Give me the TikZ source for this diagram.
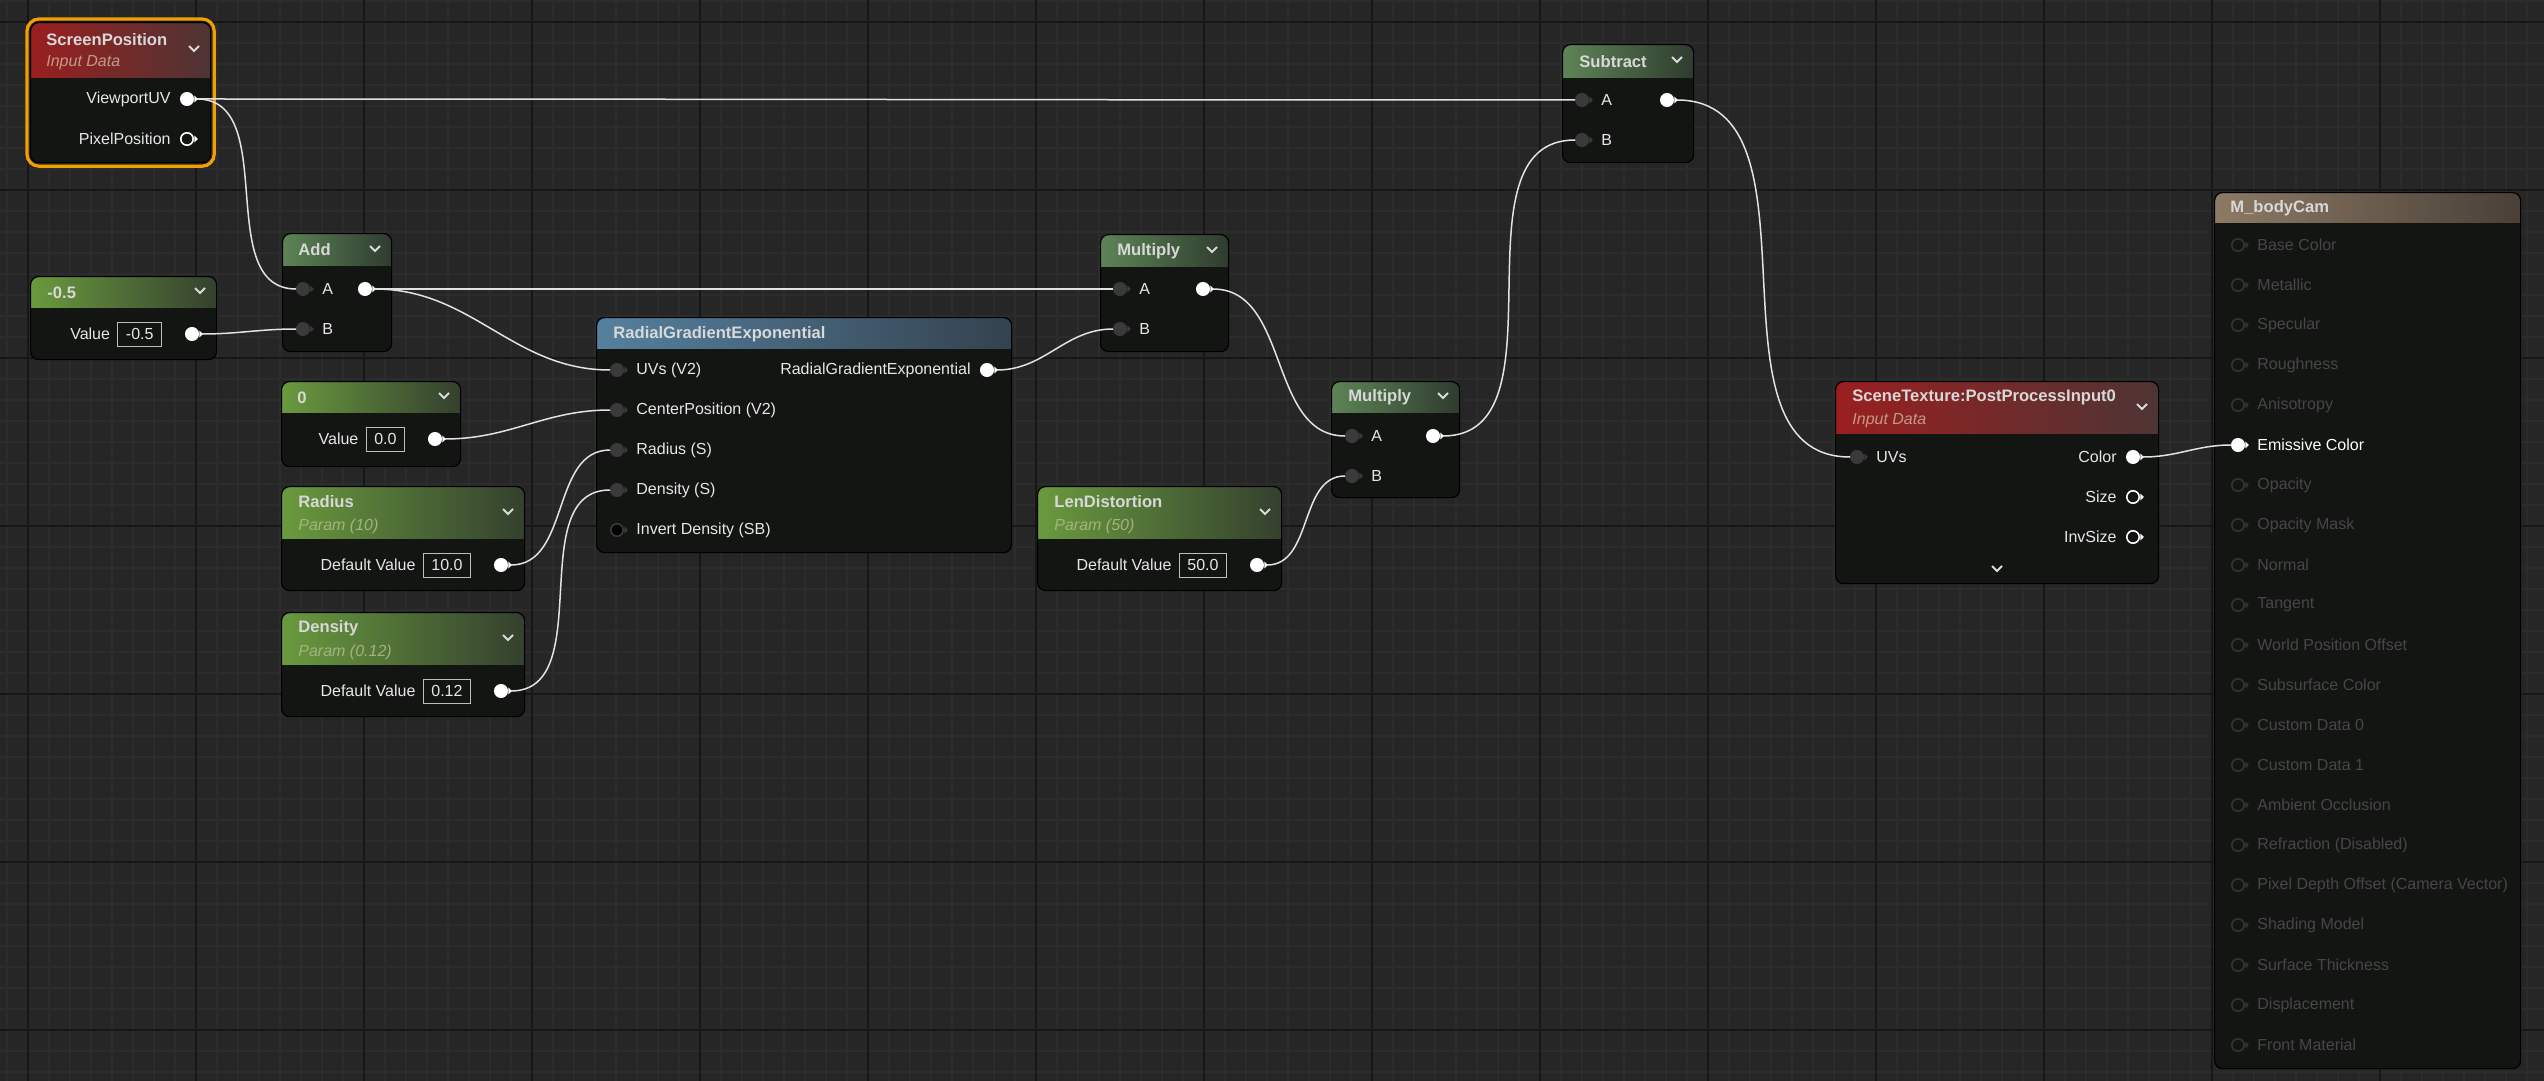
\documentclass[tikz,border=0pt]{standalone}
\usepackage{fontspec}
\setmainfont{Liberation Sans}
\usepackage{xcolor}
\usetikzlibrary{positioning,shapes.geometric}
\definecolor{canvas}{HTML}{262626}
\definecolor{gridmin}{HTML}{2C2C2C}
\definecolor{gridmaj}{HTML}{171717}
\definecolor{nodebody}{HTML}{131513}
\definecolor{pindark}{HTML}{3A3A3A}
\definecolor{pinoff}{HTML}{333333}
\definecolor{lbltext}{HTML}{E6E6E6}
\definecolor{lbldim}{HTML}{464646}
\definecolor{ttltext}{HTML}{D8D8D8}
\definecolor{valedge}{HTML}{BDBDBD}
\definecolor{wirecol}{HTML}{E2E2E2}
\definecolor{chevcol}{HTML}{DADADA}
\definecolor{selorange}{HTML}{F2A000}
\definecolor{hdrred}{HTML}{9A1F1F}
\definecolor{hdrredR}{HTML}{4E3434}
\definecolor{subred}{HTML}{C49A86}
\definecolor{hdrgrn}{HTML}{6A9A3E}
\definecolor{hdrgrnR}{HTML}{34402E}
\definecolor{subgrn}{HTML}{A3B47D}
\definecolor{hdrmath}{HTML}{5D8456}
\definecolor{hdrmathR}{HTML}{2F3B2F}
\definecolor{hdrblu}{HTML}{55809F}
\definecolor{hdrbluR}{HTML}{34424E}
\definecolor{hdrtan}{HTML}{8C7A64}
\definecolor{hdrtanR}{HTML}{4A4038}
\newcommand{\chev}[2]{\draw[chev] (#1-5,#2-3) -- (#1,#2+2) -- (#1+5,#2-3);}

\begin{document}
\begin{tikzpicture}[x=0.5pt, y=-0.5pt, font=\fontsize{8}{9.6}\selectfont]
  % one unit is one pixel of the editor screenshot, y runs downwards
  \tikzset{matbox/.style 2 args={draw=black, line width=0.6pt, fill=nodebody,
                                 rounded corners=4pt, anchor=north west,
                                 inner sep=0pt, minimum width=#1, minimum height=#2},
           hdr/.style n args={3}{path picture={\shade[sharp corners, left color=#1, right color=#2]
                 (path picture bounding box.north west) rectangle
                 ([yshift=-#3]path picture bounding box.north east);}},
           ttl/.style={font=\fontsize{8.3}{10}\selectfont\bfseries, text=ttltext,
                       inner sep=0pt, anchor=west},
           subttl/.style={font=\fontsize{8}{9.6}\selectfont\itshape, text=#1,
                          inner sep=0pt, anchor=west},
           lbl/.style={text=lbltext, inner sep=1pt},
           lbloff/.style={text=lbldim, inner sep=1pt},
           valbox/.style={draw=valedge, line width=0.5pt, text=lbltext,
                          inner xsep=4pt, inner ysep=0pt, minimum height=12pt},
           sockarrow/.style={isosceles triangle, isosceles triangle apex angle=90,
                             fill=#1, draw=none, inner sep=0pt, minimum size=1.7pt},
           sock/.style 2 args={circle, inner sep=0pt, minimum size=6.2pt, fill=#1,
                               draw=#2, line width=0.8pt, label distance=-0.5pt,
                               label={[sockarrow=#2]0:}},
           sockon/.style={sock={white}{white}},
           sockring/.style={sock={nodebody}{white}},
           sockin/.style={sock={pindark}{pindark}},
           sockinoff/.style={sock={black}{pindark}},
           sockoff/.style={sock={nodebody}{pinoff}},
           wire/.style={draw=wirecol, line width=0.75pt},
           chev/.style={draw=chevcol, line width=1pt},
           selring/.style={draw=selorange, line width=1.6pt, rounded corners=6pt}}

  % canvas and grid
  \useasboundingbox (0,0) rectangle (2544,1081);
  \fill[canvas] (0,0) rectangle (2544,1081);
  \foreach \x in {7,28,...,2544} \draw[gridmin, line width=1pt] (\x,0) -- (\x,1081);
  \foreach \y in {1,22,...,1081} \draw[gridmin, line width=1pt] (0,\y) -- (2544,\y);
  \foreach \x in {28,196,...,2544} \draw[gridmaj, line width=1.2pt] (\x,0) -- (\x,1081);
  \foreach \y in {22,190,...,1081} \draw[gridmaj, line width=1.2pt] (0,\y) -- (2544,\y);

  % ScreenPosition
  \node[matbox={90pt}{70pt}, hdr={hdrred}{hdrredR}{27.5pt}] (scrpos) at (30,22) {};
  \draw[selring] ([shift={(-3,-3)}]scrpos.north west) rectangle ([shift={(3,3)}]scrpos.south east);
  \node[ttl] (scrpos-t) at ([shift={(16,18)}]scrpos.north west) {ScreenPosition};
  \node[subttl=subred] (scrpos-s) at ([shift={(16,41)}]scrpos.north west) {Input Data};
  \chev{194}{49}
  \node[sockon] (vpuv) at (187,99) {};
  \node[lbl, left=3.5pt of vpuv] (vpuv-l) {ViewportUV};
  \node[sockring] (pixpos) at (187,139) {};
  \node[lbl, left=3.5pt of pixpos] (pixpos-l) {PixelPosition};

  % constant -0.5
  \node[matbox={93pt}{41.5pt}, hdr={hdrgrn}{hdrgrnR}{15.5pt}] (cm05) at (30,276) {};
  \node[ttl] (cm05-t) at ([shift={(17,17)}]cm05.north west) {-0.5};
  \chev{200}{291}
  \node[sockon] (cm05o) at (192,334) {};
  \node[valbox, left=11.5pt of cm05o] (cm05-v) {-0.5};
  \node[lbl, left=2.5pt of cm05-v] (cm05-l) {Value};

  % Add
  \node[matbox={54.5pt}{59pt}, hdr={hdrmath}{hdrmathR}{16pt}] (add) at (282,233) {};
  \node[ttl] (add-t) at ([shift={(16,17)}]add.north west) {Add};
  \chev{375}{249}
  \node[sockin] (addA) at (303,289) {};
  \node[lbl, right=5pt of addA] (addA-l) {A};
  \node[sockin] (addB) at (303,329) {};
  \node[lbl, right=5pt of addB] (addB-l) {B};
  \node[sockon] (addO) at (365,289) {};

  % constant 0
  \node[matbox={89.5pt}{42.5pt}, hdr={hdrgrn}{hdrgrnR}{15.5pt}] (zero) at (281,381) {};
  \node[ttl] (zero-t) at ([shift={(16,17)}]zero.north west) {0};
  \chev{444}{396}
  \node[sockon] (zeroO) at (435,439) {};
  \node[valbox, left=11.5pt of zeroO] (zero-v) {0.0};
  \node[lbl, left=2.5pt of zero-v] (zero-l) {Value};

  % Radius parameter
  \node[matbox={121.5pt}{52pt}, hdr={hdrgrn}{hdrgrnR}{26pt}] (radius) at (281,486) {};
  \node[ttl] (radius-t) at ([shift={(17,16)}]radius.north west) {Radius};
  \node[subttl=subgrn] (radius-s) at ([shift={(17,40)}]radius.north west) {Param (10)};
  \chev{508}{512}
  \node[sockon] (radO) at (501,565) {};
  \node[valbox, left=11.5pt of radO] (radius-v) {10.0};
  \node[lbl, left=2.5pt of radius-v] (radius-l) {Default Value};

  % Density parameter
  \node[matbox={121.5pt}{52pt}, hdr={hdrgrn}{hdrgrnR}{26pt}] (density) at (281,612) {};
  \node[ttl] (density-t) at ([shift={(17,16)}]density.north west) {Density};
  \node[subttl=subgrn] (density-s) at ([shift={(17,40)}]density.north west) {Param (0.12)};
  \chev{508}{638}
  \node[sockon] (denO) at (501,691) {};
  \node[valbox, left=11.5pt of denO] (density-v) {0.12};
  \node[lbl, left=2.5pt of density-v] (density-l) {Default Value};

  % RadialGradientExponential
  \node[matbox={207.5pt}{117.5pt}, hdr={hdrblu}{hdrbluR}{15.5pt}] (rge) at (596,317) {};
  \node[ttl] (rge-t) at ([shift={(17,17)}]rge.north west) {RadialGradientExponential};
  \node[sockin] (rgeUV) at (617,370) {};
  \node[lbl, right=5pt of rgeUV] (rgeUV-l) {UVs (V2)};
  \node[sockin] (rgeCP) at (617,410) {};
  \node[lbl, right=5pt of rgeCP] (rgeCP-l) {CenterPosition (V2)};
  \node[sockin] (rgeR) at (617,450) {};
  \node[lbl, right=5pt of rgeR] (rgeR-l) {Radius (S)};
  \node[sockin] (rgeD) at (617,490) {};
  \node[lbl, right=5pt of rgeD] (rgeD-l) {Density (S)};
  \node[sockinoff] (rgeInv) at (617,530) {};
  \node[lbl, right=5pt of rgeInv] (rgeInv-l) {Invert Density (SB)};
  \node[sockon] (rgeO) at (987,370) {};
  \node[lbl, left=3.5pt of rgeO] (rgeO-l) {RadialGradientExponential};

  % first Multiply
  \node[matbox={64pt}{58.5pt}, hdr={hdrmath}{hdrmathR}{16pt}] (mul1) at (1100,234) {};
  \node[ttl] (mul1-t) at ([shift={(17,17)}]mul1.north west) {Multiply};
  \chev{1212}{250}
  \node[sockin] (mul1A) at (1120,289) {};
  \node[lbl, right=5pt of mul1A] (mul1A-l) {A};
  \node[sockin] (mul1B) at (1120,329) {};
  \node[lbl, right=5pt of mul1B] (mul1B-l) {B};
  \node[sockon] (mul1O) at (1203,289) {};

  % LenDistortion parameter
  \node[matbox={122pt}{52pt}, hdr={hdrgrn}{hdrgrnR}{26pt}] (lendist) at (1037,486) {};
  \node[ttl] (lendist-t) at ([shift={(17,16)}]lendist.north west) {LenDistortion};
  \node[subttl=subgrn] (lendist-s) at ([shift={(17,40)}]lendist.north west) {Param (50)};
  \chev{1265}{512}
  \node[sockon] (lenO) at (1257,565) {};
  \node[valbox, left=11.5pt of lenO] (lendist-v) {50.0};
  \node[lbl, left=2.5pt of lendist-v] (lendist-l) {Default Value};

  % second Multiply
  \node[matbox={64pt}{58pt}, hdr={hdrmath}{hdrmathR}{15.5pt}] (mul2) at (1331,381) {};
  \node[ttl] (mul2-t) at ([shift={(17,16)}]mul2.north west) {Multiply};
  \chev{1443}{396}
  \node[sockin] (mul2A) at (1352,436) {};
  \node[lbl, right=5pt of mul2A] (mul2A-l) {A};
  \node[sockin] (mul2B) at (1352,476) {};
  \node[lbl, right=5pt of mul2B] (mul2B-l) {B};
  \node[sockon] (mul2O) at (1433,436) {};

  % Subtract
  \node[matbox={65.5pt}{59pt}, hdr={hdrmath}{hdrmathR}{16.5pt}] (sub) at (1562,44) {};
  \node[ttl] (sub-t) at ([shift={(17,18)}]sub.north west) {Subtract};
  \chev{1677}{60}
  \node[sockin] (subA) at (1582,100) {};
  \node[lbl, right=5pt of subA] (subA-l) {A};
  \node[sockin] (subB) at (1582,140) {};
  \node[lbl, right=5pt of subB] (subB-l) {B};
  \node[sockon] (subO) at (1667,100) {};

  % SceneTexture
  \node[matbox={161.5pt}{101pt}, hdr={hdrred}{hdrredR}{26pt}] (scntex) at (1835,381) {};
  \node[ttl] (scntex-t) at ([shift={(17,16)}]scntex.north west) {SceneTexture:PostProcessInput0};
  \node[subttl=subred] (scntex-s) at ([shift={(17,40)}]scntex.north west) {Input Data};
  \chev{2142}{407}
  \node[sockin] (stUV) at (1857,457) {};
  \node[lbl, right=5pt of stUV] (stUV-l) {UVs};
  \node[sockon] (stCol) at (2133,457) {};
  \node[lbl, left=3.5pt of stCol] (stCol-l) {Color};
  \node[sockring] (stSize) at (2133,497) {};
  \node[lbl, left=3.5pt of stSize] (stSize-l) {Size};
  \node[sockring] (stInv) at (2133,537) {};
  \node[lbl, left=3.5pt of stInv] (stInv-l) {InvSize};
  \chev{1997}{569}

  % material result node
  \node[matbox={153pt}{438pt}, hdr={hdrtan}{hdrtanR}{15pt}] (mbody) at (2214,192) {};
  \node[ttl] (mbody-t) at ([shift={(16,16)}]mbody.north west) {M\_bodyCam};
  \foreach \lab [count=\i from 0] in {Base Color, Metallic, Specular, Roughness, Anisotropy,
      Emissive Color, Opacity, Opacity Mask, Normal, Tangent, World Position Offset,
      Subsurface Color, Custom Data 0, Custom Data 1, Ambient Occlusion,
      Refraction (Disabled), Pixel Depth Offset (Camera Vector), Shading Model,
      Surface Thickness, Displacement, Front Material} {
    \ifnum\i=5\relax\else
      \node[sockoff] (mb\i) at (2238,245+40*\i) {};
      \node[lbloff, right=5pt of mb\i] (mb\i-l) {\lab};
    \fi
  }
  \node[sockon] (mb5) at (2238,445) {};
  \node[lbl, text=white, right=5pt of mb5] (mb5-l) {Emissive Color};

  % wires
  \draw[wire] ([xshift=1.5pt]vpuv.east)  to[out=0,in=180] (subA.west);
  \draw[wire] ([xshift=1.5pt]vpuv.east)  to[out=0,in=180] (addA.west);
  \draw[wire] ([xshift=1.5pt]cm05o.east) to[out=0,in=180] (addB.west);
  \draw[wire] ([xshift=1.5pt]addO.east)  to[out=0,in=180] (mul1A.west);
  \draw[wire] ([xshift=1.5pt]addO.east)  to[out=0,in=180] (rgeUV.west);
  \draw[wire] ([xshift=1.5pt]zeroO.east) to[out=0,in=180] (rgeCP.west);
  \draw[wire] ([xshift=1.5pt]radO.east)  to[out=0,in=180] (rgeR.west);
  \draw[wire] ([xshift=1.5pt]denO.east)  to[out=0,in=180] (rgeD.west);
  \draw[wire] ([xshift=1.5pt]rgeO.east)  to[out=0,in=180] (mul1B.west);
  \draw[wire] ([xshift=1.5pt]mul1O.east) to[out=0,in=180] (mul2A.west);
  \draw[wire] ([xshift=1.5pt]lenO.east)  to[out=0,in=180] (mul2B.west);
  \draw[wire] ([xshift=1.5pt]mul2O.east) to[out=0,in=180] (subB.west);
  \draw[wire] ([xshift=1.5pt]subO.east)  to[out=0,in=180] (stUV.west);
  \draw[wire] ([xshift=1.5pt]stCol.east) to[out=0,in=180] (mb5.west);
\end{tikzpicture}
\end{document}
